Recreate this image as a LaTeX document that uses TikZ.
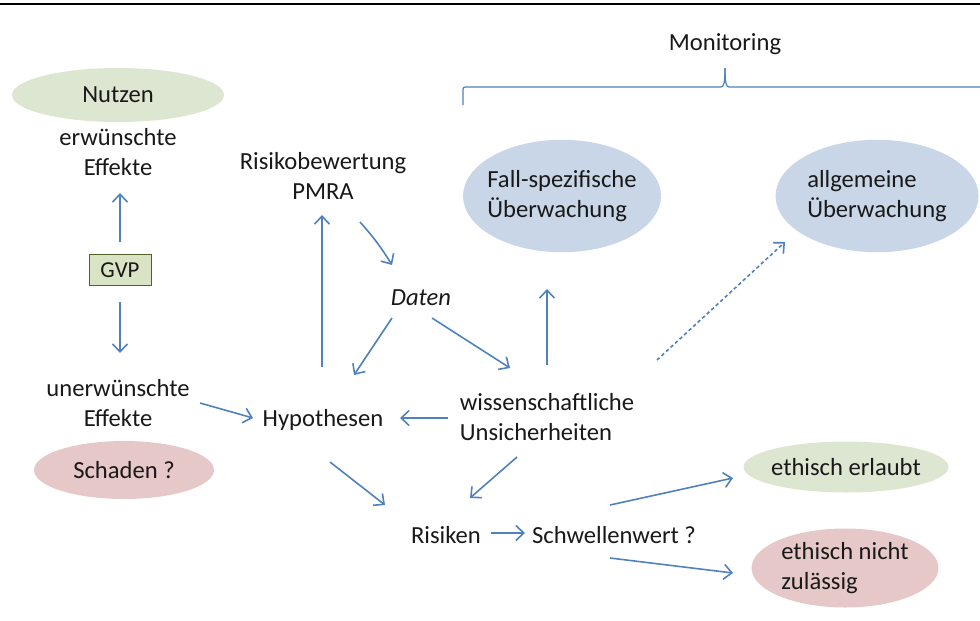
\documentclass[tikz,border=0pt]{standalone}
\usepackage{fontspec}
\setmainfont{Carlito}
\usepackage{xcolor}
\usepackage{tikz}
\usetikzlibrary{shapes.geometric, arrows.meta, positioning, calc}
\definecolor{FlowBlue}{RGB}{79,129,189}
\definecolor{OvalGreen}{RGB}{221,230,208}
\definecolor{OvalRed}{RGB}{230,200,200}
\definecolor{OvalBlue}{RGB}{200,214,231}
\definecolor{GVPGreen}{RGB}{217,228,196}
\definecolor{GVPBorder}{RGB}{79,98,40}
\tikzset{
    ovalbox/.style={ellipse, draw=none, inner sep=0pt, inner xsep=-0.15cm, align=left,
        text=black!90, font=\fontsize{14}{17}\selectfont},
    goodoval/.style={ovalbox, fill=OvalGreen},
    badoval/.style={ovalbox, fill=OvalRed},
    monioval/.style={ovalbox, fill=OvalBlue},
    gvpbox/.style={rectangle, minimum width=1.24cm, minimum height=0.62cm,
        draw=GVPBorder, fill=GVPGreen, text=black!90, font=\fontsize{13}{16}\selectfont},
    plaintext/.style={align=center, inner sep=0pt, text=black!90,
        font=\fontsize{14}{17}\selectfont},
    flowarrow/.style={-{Straight Barb[length=1.6mm, width=3mm]}, line width=0.9pt, FlowBlue},
    dotarrow/.style={flowarrow, dash pattern=on 2pt off 1.5pt},
    bracestyle/.style={line width=0.7pt, FlowBlue},
}
\begin{document}
\begin{tikzpicture}[x=0.02cm, y=-0.02cm]
    \useasboundingbox[fill=white] (0,0) rectangle (980,620);
    \draw[black, line width=1.1pt] (0,4) -- (980,4);

    \node[plaintext] (mon) at (725,44) {Monitoring};
    \draw[bracestyle] (463,105) -- (463,92) .. controls (463,87) .. (468,87) -- (721,87)
        .. controls (724,87) and (725,82) .. (725,68);
    \draw[bracestyle] (725,68) .. controls (725,82) and (726,87) .. (729,87) -- (980,87);

    \node[goodoval, minimum width=4.24cm, minimum height=1.08cm, align=center] (nutzen) at (118,95) {Nutzen};
    \node[plaintext] (erw) at (118,152) {erwünschte\\Effekte};
    \node[gvpbox] (gvp) at (120,270) {GVP};
    \node[plaintext] (unerw) at (118,403) {unerwünschte\\Effekte};
    \node[badoval, minimum width=3.6cm, minimum height=1.16cm, align=center] (schaden) at (124,470) {Schaden ?};

    \node[plaintext] (risk) at (323,176) {Risikobewertung\\PMRA};
    \node[plaintext, font=\fontsize{14}{17}\selectfont\itshape] (daten) at (421,298) {Daten};
    \node[plaintext] (hyp) at (323,420) {Hypothesen};
    \node[plaintext, align=left] (wiss) at (547,417) {wissenschaftliche\\Unsicherheiten};

    \node[monioval, minimum width=3.96cm, minimum height=2.25cm] (fall) at (562,196) {Fall-spezifische\\Überwachung};
    \node[monioval, minimum width=4.06cm, minimum height=2.25cm] (allg) at (877,196) {allgemeine\\Überwachung};

    \node[plaintext] (risiken) at (446,535) {Risiken};
    \node[plaintext] (schw) at (614,535) {Schwellenwert ?};
    \node[goodoval, minimum width=4.1cm, minimum height=1.02cm] (erlaubt) at (846,467) {ethisch erlaubt};
    \node[badoval, minimum width=3.74cm, minimum height=1.58cm] (nicht) at (845,568) {ethisch nicht\\zulässig};

    \draw[flowarrow] ([shift={(0,-28)}]gvp.center) -- ([shift={(2,41)}]erw.center);
    \draw[flowarrow] ([shift={(0,32)}]gvp.center) -- ([shift={(2,-50)}]unerw.center);
    \draw[flowarrow] ([shift={(82,0)}]unerw.center) -- ([shift={(-70,-2)}]hyp.center);
    \draw[flowarrow] ([shift={(-1,-53)}]hyp.center) -- ([shift={(-1,39)}]risk.center);
    \draw[flowarrow] ([shift={(37,46)}]risk.center) to[bend left=5] ([shift={(-29,-33)}]daten.center);
    \draw[flowarrow] ([shift={(-29,20)}]daten.center) -- ([shift={(31,-45)}]hyp.center);
    \draw[flowarrow] ([shift={(11,20)}]daten.center) -- ([shift={(-37,-49)}]wiss.center);
    \draw[flowarrow] ([shift={(-99,1)}]wiss.center) -- ([shift={(77,-2)}]hyp.center);
    \draw[flowarrow] ([shift={(0,-52)}]wiss.center) -- ([shift={(-15,93)}]fall.center);
    \draw[dotarrow] ([shift={(110,-57)}]wiss.center) -- ([shift={(-92,46)}]allg.center);
    \draw[flowarrow] ([shift={(7,42)}]hyp.center) -- ([shift={(-61,-30)}]risiken.center);
    \draw[flowarrow] ([shift={(-30,40)}]wiss.center) -- ([shift={(24,-37)}]risiken.center);
    \draw[flowarrow] ([shift={(45,-2)}]risiken.center) -- ([shift={(-89,-2)}]schw.center);
    \draw[flowarrow] ([shift={(-4,-30)}]schw.center) -- ([shift={(-113,11)}]erlaubt.center);
    \draw[flowarrow] ([shift={(-4,23)}]schw.center) -- ([shift={(-112,5)}]nicht.center);
\end{tikzpicture}
\end{document}
